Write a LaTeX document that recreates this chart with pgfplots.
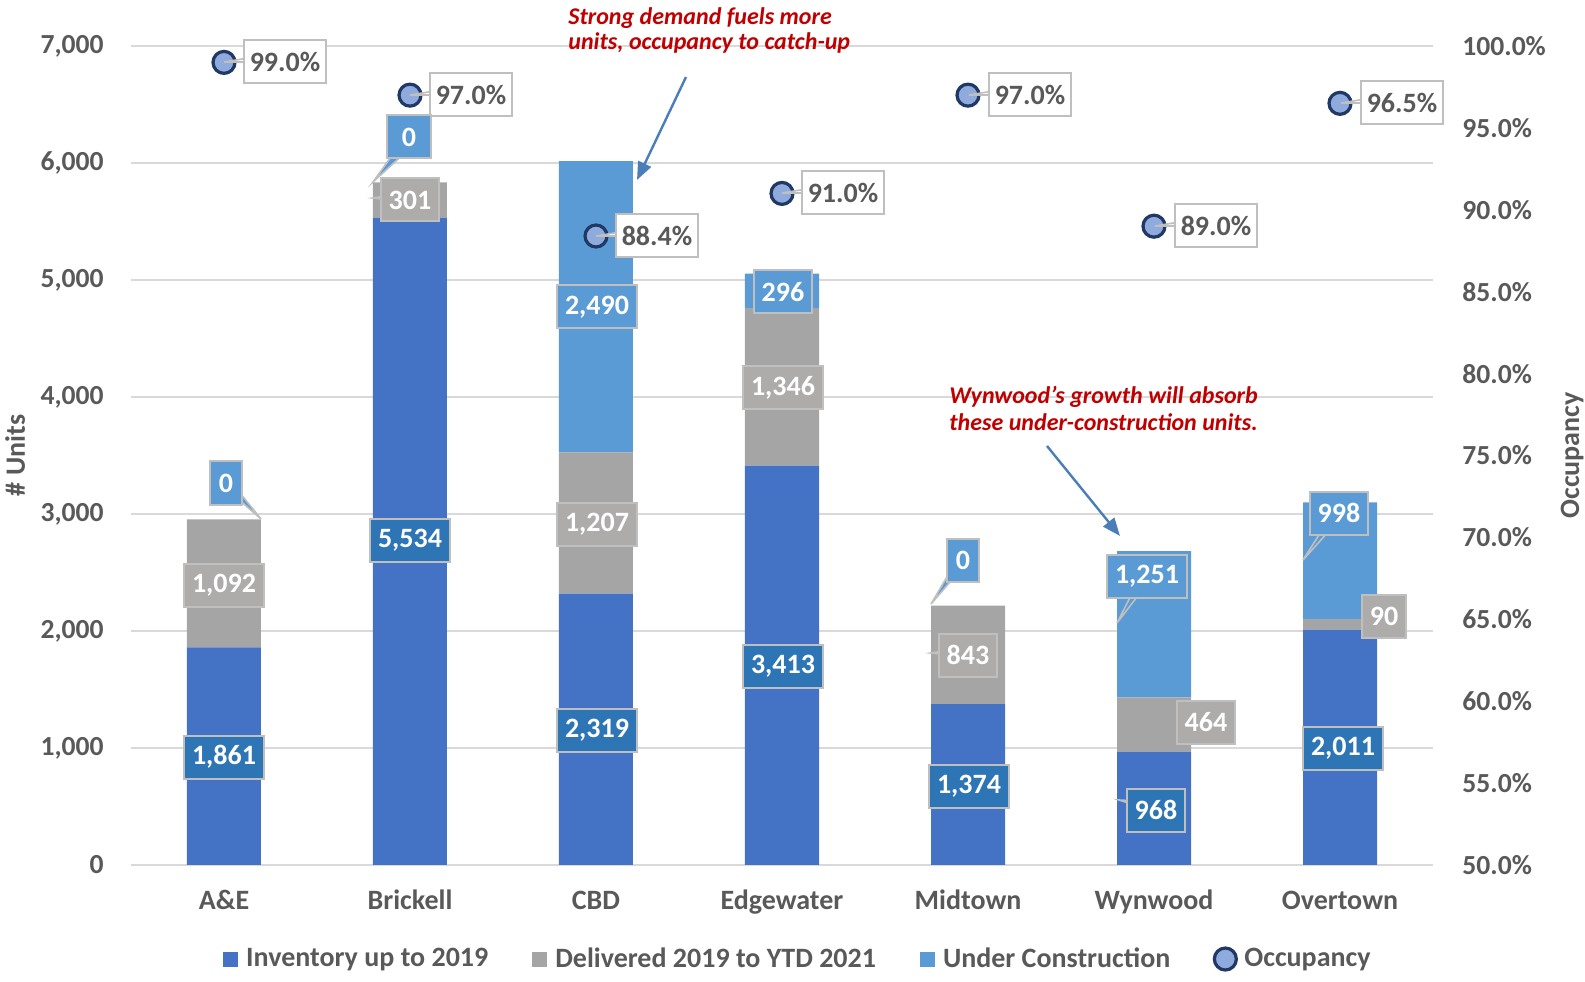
\documentclass[border=0pt]{standalone}
\usepackage{pgfplots}
\pgfplotsset{compat=1.18}
\usepackage{fontspec}
\setmainfont{Carlito}
\usetikzlibrary{arrows.meta}
\definecolor{inv}{HTML}{4472C4}
\definecolor{dlv}{HTML}{A5A5A5}
\definecolor{uc}{HTML}{5B9BD5}
\definecolor{invlab}{HTML}{2E75B6}
\definecolor{dlvlab}{HTML}{AEABAB}
\definecolor{txt}{HTML}{595959}
\definecolor{gridc}{HTML}{D9D9D9}
\definecolor{lbord}{HTML}{BFBFBF}
\definecolor{occfill}{HTML}{8FAADC}
\definecolor{occedge}{HTML}{203864}
\definecolor{note}{HTML}{C00000}
\definecolor{arr}{HTML}{4A7EBB}

\newcommand\lbl{\fontsize{14}{16}\selectfont\bfseries}
\newcommand\tck{\fontsize{13.8}{16}\selectfont\bfseries}
\newcommand\ann{\fontsize{12}{12}\selectfont\bfseries\itshape}

\pgfplotsset{
  sqleg/.style={legend image code/.code={\fill[##1,draw=none] (0pt,-3.75pt) rectangle (7.5pt,3.75pt); \path[draw=none,fill=none] (0pt,0pt) rectangle (9.5pt,0.1pt);}},
  circleg/.style={legend image code/.code={\draw[##1] plot coordinates {(4.5pt,0pt)}; \path[draw=none,fill=none] (0pt,0pt) rectangle (12pt,0.1pt);}},
}

\tikzset{
  blab/.style={draw=lbord, line width=1pt, text=white, font=\lbl, minimum height=21.5pt, minimum width=16pt, inner xsep=4pt, inner ysep=0pt},
  olab/.style={blab, fill=white, text=txt, inner xsep=3pt},
}
% plain label, label with a vertical tail, label with a sideways tail
\newcommand\bl[4]{\node[blab, fill=#1] at (#2,#3) {#4};}
\newcommand\clv[6]{\filldraw[fill=#1, draw=lbord, line width=0.8pt] (#2-6,#3) -- (#4,#5) -- (#2+6,#3) -- cycle;
  \node[blab, fill=#1] at (#2,#3) {#6};}
\newcommand\clh[6]{\filldraw[fill=#1, draw=lbord, line width=0.8pt] (#2,#3-8) -- (#4,#5) -- (#2,#3+2) -- cycle;
  \node[blab, fill=#1] at (#2,#3) {#6};}
\newcommand\occ[5]{\filldraw[fill=white, draw=lbord, line width=0.8pt] (#1,#2-10) -- (#3,#4) -- (#1,#2) -- cycle;
  \node[olab] at (#1,#2) {#5};}

\begin{document}
\begin{tikzpicture}
\begin{axis}[
  scale only axis, width=651pt, height=409.5pt,
  ybar stacked, bar width=37pt,
  xmin=-0.5, xmax=6.5, ymin=0, ymax=7000,
  xtick={0,...,6},
  xticklabels={A\&E,Brickell,CBD,Edgewater,Midtown,Wynwood,Overtown},
  ytick={0,1000,...,7000},
  axis x line*=bottom, axis y line*=left,
  x axis line style={draw=gridc, line width=1pt, -},
  y axis line style={draw=none},
  major tick length=0pt,
  ymajorgrids, grid style={draw=gridc, line width=0.8pt},
  tick label style={font=\tck, text=txt},
  xticklabel style={font=\lbl, anchor=base, yshift=-22.5pt},
  yticklabel style={anchor=east, inner sep=0pt, xshift=-13.5pt},
  /pgf/number format/1000 sep={,},
  /pgf/number format/assume math mode=true,
  ylabel={\# Units},
  ylabel style={at={(rel axis cs:-0.089,0.5)}, anchor=center, font=\lbl, text=txt},
]
% Inventory up to 2019
\addplot[fill=inv, draw=none] coordinates {(0,1861) (1,5534) (2,2319) (3,3413) (4,1374) (5,968) (6,2011)};
% Delivered 2019 to YTD 2021
\addplot[fill=dlv, draw=none] coordinates {(0,1092) (1,301) (2,1207) (3,1346) (4,843) (5,464) (6,90)};
% Under Construction
\addplot[fill=uc, draw=none] coordinates {(0,0) (1,0) (2,2490) (3,296) (4,0) (5,1251) (6,998)};
\coordinate (PA) at (rel axis cs:0,1);
\end{axis}

\begin{axis}[
  scale only axis, width=651pt, height=409.5pt,
  xmin=-0.5, xmax=6.5, ymin=50, ymax=100,
  axis x line=none, axis y line*=right,
  y axis line style={draw=none},
  major tick length=0pt,
  ytick={50,55,...,100},
  yticklabel={\pgfmathprintnumber[fixed,fixed zerofill,precision=1]{\tick}\%},
  tick label style={font=\tck, text=txt},
  yticklabel style={anchor=west, inner sep=0pt, xshift=14.5pt},
  /pgf/number format/assume math mode=true,
  ylabel={Occupancy},
  ylabel style={at={(rel axis cs:1.1068,0.5)}, anchor=center, font=\lbl, text=txt},
  legend style={at={(rel axis cs:0.513,-0.1148)}, anchor=center, draw=none, fill=none,
    font=\lbl, text=txt, legend columns=4,
    /tikz/every even column/.append style={column sep=20pt}},
  legend cell align=left,
]
\addlegendimage{sqleg, fill=inv}
\addlegendimage{sqleg, fill=dlv}
\addlegendimage{sqleg, fill=uc}
\addplot[circleg, only marks, mark=*, mark size=5.5pt, mark options={fill=occfill, draw=occedge, line width=1.6pt}]
  coordinates {(0,99.0) (1,97.0) (2,88.4) (3,91.0) (4,97.0) (5,89.0) (6,96.5)};
\legend{Inventory up to 2019, Delivered 2019 to YTD 2021, Under Construction, Occupancy}
\end{axis}

\pgfresetboundingbox
\begin{scope}[shift={(PA)}, x=0.5pt, y=-0.5pt, shift={(-131,-46)}]
\path (0,0) rectangle (1585,981);
% occupancy callouts
\occ{285}{62}{224}{62}{99.0\%}
\occ{471}{95}{410}{95}{97.0\%}
\occ{657}{236}{596}{236}{88.4\%}
\occ{843}{193}{782}{193}{91.0\%}
\occ{1030}{95}{969}{95}{97.0\%}
\occ{1216}{226}{1155}{226}{89.0\%}
\occ{1402}{103}{1341}{103}{96.5\%}
% inventory labels
\bl{invlab}{224}{757}{1,861}
\bl{invlab}{410}{540}{5,534}
\bl{invlab}{597}{730}{2,319}
\bl{invlab}{783}{666}{3,413}
\bl{invlab}{969}{786}{1,374}
\clh{invlab}{1156}{810}{1119}{800}{968}
\bl{invlab}{1343}{748}{2,011}
% delivered labels
\bl{dlvlab}{224}{585}{1,092}
\clh{dlvlab}{410}{200}{373}{198}{301}
\bl{dlvlab}{597}{524}{1,207}
\bl{dlvlab}{783}{388}{1,346}
\clh{dlvlab}{968}{655}{931}{653}{843}
\bl{dlvlab}{1206}{722}{464}
\bl{dlvlab}{1384}{616}{90}
% under construction labels
\clv{uc}{226}{483}{261}{519}{0}
\filldraw[fill=uc, draw=lbord, line width=0.8pt] (396,150) -- (373,182) -- (408,150) -- cycle;
\node[blab, fill=uc, minimum width=22pt] at (409,137) {0};
\clv{uc}{963}{560}{931}{604}{0}
\bl{uc}{597}{307}{2,490}
\bl{uc}{783}{292}{296}
\clv{uc}{1147}{576}{1117}{623}{1,251}
\clv{uc}{1339}{513}{1303}{560}{998}
% notes
\node[anchor=west, text=note, font=\ann, inner sep=0pt] at (568,18) {Strong demand fuels more};
\node[anchor=west, text=note, font=\ann, inner sep=0pt] at (568,43) {units, occupancy to catch-up};
\draw[arr, line width=1.2pt, -{Triangle[length=9pt,width=7pt]}] (686,77) -- (637,180);
\node[anchor=west, text=note, font=\ann, inner sep=0pt] at (949,397) {Wynwood’s growth will absorb};
\node[anchor=west, text=note, font=\ann, inner sep=0pt] at (949,422) {these under-construction units.};
\draw[arr, line width=1.2pt, -{Triangle[length=9pt,width=7pt]}] (1047,446) -- (1120,536);
\end{scope}
\end{tikzpicture}
\end{document}
